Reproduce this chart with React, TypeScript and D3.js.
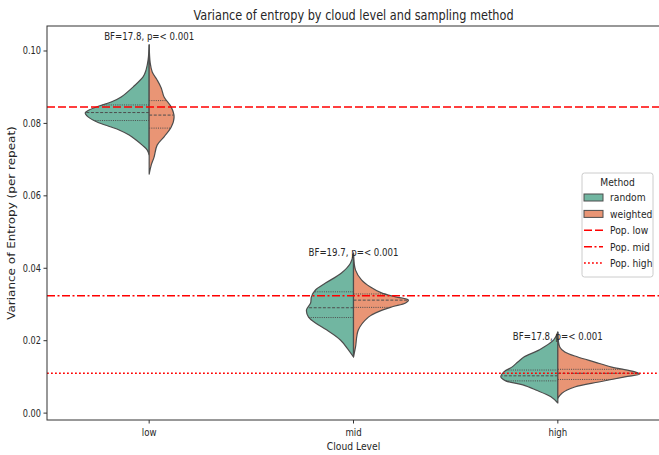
import React from "react";
import * as d3 from "d3";

const levels = ["low", "mid", "high"];
const methods = ["random", "weighted"];
const methodColors = ["#71b6a1", "#e99575"];

// violin outlines: [variance, half width in category units]
const lowRandom: [number, number][] = [
  [0.1017, 0], [0.0976, 0.005], [0.0948, 0.015], [0.0929, 0.029], [0.0901, 0.078],
  [0.0873, 0.137], [0.0859, 0.186], [0.0848, 0.245], [0.0837, 0.294], [0.0829, 0.313],
  [0.0818, 0.299], [0.0804, 0.255], [0.079, 0.186], [0.0782, 0.147], [0.0768, 0.098],
  [0.0754, 0.064], [0.074, 0.034], [0.0727, 0.01], [0.0713, 0],
];
const lowWeighted: [number, number][] = [
  [0.1017, 0], [0.0967, 0.005], [0.0942, 0.015], [0.092, 0.039], [0.0898, 0.059],
  [0.0873, 0.073], [0.0845, 0.108], [0.0818, 0.122], [0.079, 0.108], [0.0763, 0.073],
  [0.074, 0.039], [0.0707, 0.024], [0.0685, 0.01], [0.066, 0],
];
const midRandom: [number, number][] = [
  [0.0442, 0], [0.0414, 0.015], [0.0387, 0.059], [0.0359, 0.137], [0.034, 0.186],
  [0.0321, 0.206], [0.0304, 0.21], [0.0285, 0.23], [0.0265, 0.22], [0.0249, 0.186],
  [0.023, 0.132], [0.0202, 0.064], [0.0174, 0.024], [0.0155, 0],
];
const midWeighted: [number, number][] = [
  [0.0442, 0], [0.0395, 0.01], [0.0368, 0.039], [0.0348, 0.083], [0.0332, 0.137],
  [0.0321, 0.206], [0.0312, 0.269], [0.0304, 0.255], [0.0293, 0.186], [0.0279, 0.117],
  [0.0265, 0.073], [0.023, 0.024], [0.0183, 0.01], [0.0155, 0],
];
const highRandom: [number, number][] = [
  [0.0224, 0], [0.0202, 0.02], [0.0174, 0.093], [0.0155, 0.166], [0.0141, 0.196],
  [0.0127, 0.225], [0.0114, 0.264], [0.01, 0.279], [0.0089, 0.255], [0.0078, 0.171],
  [0.0064, 0.108], [0.0045, 0.034], [0.0028, 0],
];
const highWeighted: [number, number][] = [
  [0.0224, 0], [0.0182, 0.01], [0.0169, 0.034], [0.0155, 0.098], [0.0141, 0.181],
  [0.0127, 0.264], [0.0114, 0.377], [0.0108, 0.401], [0.01, 0.328], [0.0086, 0.201],
  [0.0072, 0.083], [0.0055, 0.02], [0.0041, 0],
];

// [upper quartile, median, lower quartile]
const lowRandomQ = [0.0851, 0.083, 0.0808];
const lowWeightedQ = [0.0863, 0.0823, 0.0787];
const midRandomQ = [0.0335, 0.0291, 0.0264];
const midWeightedQ = [0.0329, 0.0312, 0.0292];
const highRandomQ = [0.0119, 0.0103, 0.0089];
const highWeightedQ = [0.0121, 0.011, 0.0093];

const profiles = [
  [lowRandom, lowWeighted],
  [midRandom, midWeighted],
  [highRandom, highWeighted],
];
const quarts = [
  [lowRandomQ, lowWeightedQ],
  [midRandomQ, midWeightedQ],
  [highRandomQ, highWeightedQ],
];

const yTicks = [0, 0.02, 0.04, 0.06, 0.08, 0.1];
const popValues = [0.0845, 0.0324, 0.011];
const popLabels = ["Pop. low", "Pop. mid", "Pop. high"];
const popDash = ["8,3", "8,2.5,2,2.5", "1.8,2.2"];
const bfLabels = ["BF=17.8, p=< 0.001", "BF=19.7, p=< 0.001", "BF=17.8, p=< 0.001"];
const bfY = [0.1029, 0.0434, 0.0201];

const W = 659, H = 455;
const plot = { left: 47, right: 660, top: 26, bottom: 420 };
const SX = 0.82;
const FONT = "DejaVu Sans, sans-serif";
const INK = "#262626";
const EDGE = "#4d4d4d";

const x = d3.scaleLinear().domain([-0.5, 2.5]).range([plot.left, plot.right]);
const y = d3.scaleLinear().domain([-0.0019, 0.1069]).range([plot.bottom, plot.top]);
const unit = x(1) - x(0);

function widthAt(p: [number, number][], v: number) {
  for (let i = 0; i < p.length - 1; i++) {
    const [a, wa] = p[i], [b, wb] = p[i + 1];
    if (v <= a && v >= b) return wa + ((a - v) / (a - b)) * (wb - wa);
  }
  return 0;
}

function T(props: any) {
  const { x: tx, y: ty, size, anchor = "start", children } = props;
  return (
    <text
      transform={`translate(${tx},${ty}) scale(${SX},1)`}
      fontSize={size}
      fontFamily={FONT}
      textAnchor={anchor}
      fill={INK}
    >
      {children}
    </text>
  );
}

export default function App() {
  const legendRows = [0, 1, 2, 3, 4].map((i) => 197.5 + i * 16.4);

  return (
    <svg
      width={W}
      height={H}
      style={{ position: "absolute", left: 0, top: 0, background: "#fff" }}
    >
      <rect width={W} height={H} fill="#fff" />

      {/* violins */}
      {levels.map((lv, li) =>
        methods.map((m, mi) => {
          const cx = x(li);
          const side = mi === 0 ? -1 : 1;
          const area = d3
            .area<[number, number]>()
            .y((d) => y(d[0]))
            .x0(cx)
            .x1((d) => cx + side * d[1] * unit)
            .curve(d3.curveCatmullRom.alpha(0.5));
          return (
            <g key={lv + m}>
              <path
                d={area(profiles[li][mi]) || ""}
                fill={methodColors[mi]}
                stroke={EDGE}
                strokeWidth={1.2}
                strokeLinejoin="round"
              />
              {quarts[li][mi].map((q, qi) => (
                <line
                  key={qi}
                  x1={cx}
                  x2={cx + side * widthAt(profiles[li][mi], q) * unit}
                  y1={y(q)}
                  y2={y(q)}
                  stroke={EDGE}
                  strokeWidth={1}
                  strokeDasharray={qi === 1 ? "3,1.6" : "1,1.2"}
                />
              ))}
            </g>
          );
        })
      )}

      {/* population reference lines */}
      {popValues.map((v, i) => (
        <line
          key={i}
          x1={plot.left}
          x2={plot.right}
          y1={y(v)}
          y2={y(v)}
          stroke="#ff0000"
          strokeWidth={1.5}
          strokeDasharray={popDash[i]}
        />
      ))}

      {/* BF annotations */}
      {bfLabels.map((t, i) => (
        <T key={i} x={x(i)} y={y(bfY[i])} size={10.5} anchor="middle">
          {t}
        </T>
      ))}

      {/* spines */}
      <rect
        x={plot.left}
        y={plot.top}
        width={plot.right - plot.left}
        height={plot.bottom - plot.top}
        fill="none"
        stroke="#333"
        strokeWidth={1}
      />

      {/* y axis */}
      {yTicks.map((t) => (
        <g key={t}>
          <line x1={plot.left - 3.5} x2={plot.left} y1={y(t)} y2={y(t)} stroke="#333" />
          <T x={plot.left - 6} y={y(t) + 3.5} size={10} anchor="end">
            {t.toFixed(2)}
          </T>
        </g>
      ))}
      <text
        transform={`translate(15,${(plot.top + plot.bottom) / 2}) rotate(-90) scale(1,${SX})`}
        fontSize={12}
        fontFamily={FONT}
        textAnchor="middle"
        fill={INK}
      >
        Variance of Entropy (per repeat)
      </text>

      {/* x axis */}
      {levels.map((lv, i) => (
        <g key={lv}>
          <line x1={x(i)} x2={x(i)} y1={plot.bottom} y2={plot.bottom + 3.5} stroke="#333" />
          <T x={x(i)} y={436} size={10.5} anchor="middle">
            {lv}
          </T>
        </g>
      ))}
      <T x={(plot.left + plot.right) / 2} y={450} size={11.2} anchor="middle">
        Cloud Level
      </T>

      {/* title */}
      <T x={(plot.left + plot.right) / 2} y={20} size={13.8} anchor="middle">
        Variance of entropy by cloud level and sampling method
      </T>

      {/* legend */}
      <g>
        <rect
          x={582}
          y={173}
          width={71}
          height={104}
          rx={2.5}
          fill="#fff"
          fillOpacity={0.8}
          stroke="#cccccc"
        />
        <T x={617.5} y={185.5} size={11.2} anchor="middle">
          Method
        </T>
        {methods.map((m, i) => (
          <g key={m}>
            <rect
              x={584}
              y={legendRows[i] - 3.5}
              width={19}
              height={7}
              fill={methodColors[i]}
              stroke={EDGE}
              strokeWidth={1}
            />
            <T x={610} y={legendRows[i] + 3.8} size={11.2}>
              {m}
            </T>
          </g>
        ))}
        {popLabels.map((p, i) => (
          <g key={p}>
            <line
              x1={584}
              x2={603}
              y1={legendRows[i + 2]}
              y2={legendRows[i + 2]}
              stroke="#ff0000"
              strokeWidth={1.5}
              strokeDasharray={popDash[i]}
            />
            <T x={610} y={legendRows[i + 2] + 3.8} size={11.2}>
              {p}
            </T>
          </g>
        ))}
      </g>
    </svg>
  );
}
